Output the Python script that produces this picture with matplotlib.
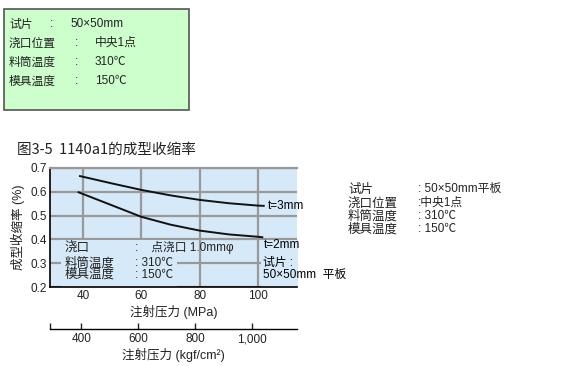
import matplotlib
matplotlib.use("Agg")
import matplotlib.pyplot as plt
from matplotlib.patches import Rectangle

plt.rcParams['font.family'] = ['Liberation Sans', 'Noto Sans CJK SC', 'DejaVu Sans']
CJK = ['Noto Sans CJK SC', 'DejaVu Sans']

# datos
mpa_3mm = [39, 50, 60, 70, 80, 90, 100, 102]
shr_3mm = [0.666, 0.635, 0.608, 0.585, 0.566, 0.552, 0.542, 0.541]
mpa_2mm = [38.5, 50, 60, 70, 80, 90, 100, 101.5]
shr_2mm = [0.598, 0.543, 0.495, 0.462, 0.437, 0.421, 0.411, 0.409]
mpa_ticks = [40, 60, 80, 100]
y_ticks = [0.2, 0.3, 0.4, 0.5, 0.6, 0.7]
kgf_ticks = [400, 600, 800, 1000]
kgf_labels = ['400', '600', '800', '1,000']

cond_labels = ['试片', '浇口位置', '料筒温度', '模具温度']
cond_values = ['50×50mm', '中央1点', '310℃', '150℃']
side_values = ['50×50mm平板', '中央1点', '310℃', '150℃']

bg = '#d5e9f8'
W, H = 565, 366

fig = plt.figure(figsize=(5.65, 3.66), dpi=100)

def fx(px):
    return px / W

def fy(py):
    return 1 - py / H

# caja verde de arriba
fig.patches.append(Rectangle((fx(4), fy(110)), fx(185), 101 / H, transform=fig.transFigure,
                             facecolor='#ccffcc', edgecolor='#555555', lw=1.2))
rows = [24, 43, 62, 81]
for i, (lab, val) in enumerate(zip(cond_labels, cond_values)):
    cx = 50 if i == 0 else 75
    vx = 70 if i == 0 else 95
    fig.text(fx(9), fy(rows[i]), lab, fontsize=8.5, va='center', color='#222222', family=CJK)
    fig.text(fx(cx), fy(rows[i]), ':', fontsize=8.5, va='center', color='#222222')
    fig.text(fx(vx), fy(rows[i]), val, fontsize=8.5, va='center', color='#222222')

# titulo
fig.text(fx(17), fy(150), '图3-5  1140a1的成型收缩率', fontsize=10.5, va='center',
         family=CJK, fontweight='medium', color='#222222')

# grafico principal
ax = fig.add_axes([fx(50), fy(287), 247 / W, 119 / H])
ax.set_facecolor(bg)
ax.set_axisbelow(True)
ax.plot(mpa_3mm, shr_3mm, color='#111111', lw=1.4)
ax.plot(mpa_2mm, shr_2mm, color='#111111', lw=1.4)
ax.set_xlim(28.7, 113.4)
ax.set_ylim(0.2, 0.7)
ax.set_xticks(mpa_ticks)
ax.set_yticks(y_ticks)
ax.set_yticklabels(['%.1f' % v for v in y_ticks])
ax.grid(True, color='#999999', lw=1.6)
ax.tick_params(length=0, labelsize=8.5, colors='#222222', pad=2)
ax.spines['right'].set_visible(False)
ax.spines['top'].set_color('#999999')
ax.spines['top'].set_linewidth(1.6)
ax.spines['left'].set_linewidth(1.2)
ax.spines['bottom'].set_linewidth(1.2)
ax.set_xlabel('注射压力 (MPa)', fontsize=9, labelpad=2, color='#222222')
ax.set_ylabel('成型收缩率 (%)', fontsize=9, labelpad=4, color='#222222', fontweight='medium')

# tapar la rejilla donde va el texto
ax.add_patch(Rectangle((0.045, 0), 0.47, 0.395, transform=ax.transAxes,
                       facecolor=bg, edgecolor='none', zorder=1))
ax.add_patch(Rectangle((0.855, 0), 0.15, 0.395, transform=ax.transAxes,
                       facecolor=bg, edgecolor='none', zorder=1, clip_on=False))

ax.text(103.5, 0.542, 't=3mm', fontsize=8.5, va='center', clip_on=False)
ax.text(101.9, 0.376, 't=2mm', fontsize=8.5, va='center', clip_on=False)
ax.text(101.9, 0.301, '试片 :', fontsize=8.5, va='center', clip_on=False)
ax.text(101.9, 0.252, '50×50mm  平板', fontsize=8.5, va='center', clip_on=False)

inner_labels = ['浇口', '料筒温度', '模具温度']
inner_values = [':    点浇口 1.0mmφ', ': 310℃', ': 150℃']
inner_y = [0.368, 0.301, 0.252]
for lab, val, yy in zip(inner_labels, inner_values, inner_y):
    ax.text(33.8, yy, lab, fontsize=9, va='center', fontweight='medium',
            family=CJK, color='#222222', zorder=3)
    ax.text(57.8, yy, val, fontsize=8.5, va='center', color='#222222', zorder=3)

# segundo eje en kgf/cm2
ax2 = fig.add_axes([fx(50), fy(329), 247 / W, 0.0001])
ax2.set_xlim(290, 1159)
for s in ['left', 'right', 'top']:
    ax2.spines[s].set_visible(False)
ax2.spines['bottom'].set_linewidth(1.0)
ax2.set_yticks([])
ax2.set_xticks(kgf_ticks)
ax2.set_xticklabels(kgf_labels)
ax2.set_xticks([290], minor=True)
ax2.tick_params(axis='x', which='both', direction='in', length=4, width=1.0,
                labelsize=8.5, colors='#222222', pad=3)
ax2.set_xlabel('注射压力 (kgf/cm²)', fontsize=9, labelpad=2, color='#222222')

# bloque de texto a la derecha
side_rows = [189, 203, 216, 229]
for lab, val, yy in zip(cond_labels, side_values, side_rows):
    fig.text(fx(348), fy(yy), lab, fontsize=9, va='center', fontweight='medium',
             family=CJK, color='#222222')
    fig.text(fx(418), fy(yy), ': ' + val if lab != '浇口位置' else ':' + val,
             fontsize=8.5, va='center', color='#222222')

plt.savefig('out.png', dpi=100)
